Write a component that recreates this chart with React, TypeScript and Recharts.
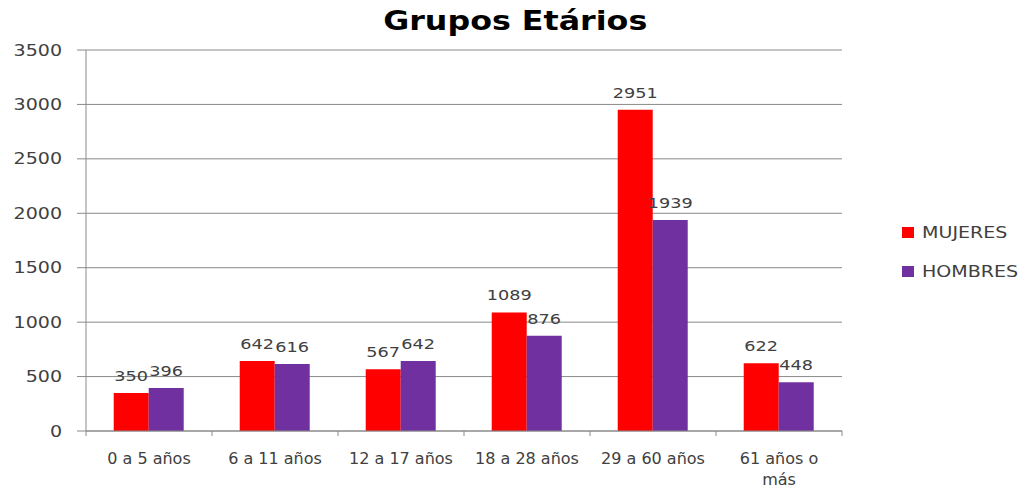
import React from 'react';
import { BarChart, Bar, XAxis, YAxis, CartesianGrid, Legend, LabelList } from 'recharts';

const categories = ['0 a 5 años', '6 a 11 años', '12 a 17 años', '18 a 28 años', '29 a 60 años', '61 años o más'];
const mujeres = [350, 642, 567, 1089, 2951, 622];
const hombres = [396, 616, 642, 876, 1939, 448];
const yTicks = [0, 500, 1000, 1500, 2000, 2500, 3000, 3500];
const seriesNames = { m: 'MUJERES', h: 'HOMBRES' };
const legendOrder = [seriesNames.m, seriesNames.h];
const title = 'Grupos Etários';

const data = categories.map((c, i) => ({ cat: c, m: mujeres[i], h: hombres[i] }));

const FONT = '"DejaVu Sans", sans-serif';
const TXT = '#404040';
const GRID = '#8a8a8a';
const SX = 1.27;

const YTick = (props: any) => {
  const { x, y, payload } = props;
  return (
    <g transform={`translate(${x},${y + 5.5})`}>
      <text transform={`scale(${SX},1)`} textAnchor="end" fontFamily={FONT} fontSize={15} fill={TXT}>
        {payload.value}
      </text>
    </g>
  );
};

const wrapLabel = (s: string, max: number) => {
  const words = s.split(' ');
  const lines: string[] = [];
  let cur = '';
  for (const w of words) {
    const next = cur ? cur + ' ' + w : w;
    if (next.length > max && cur) {
      lines.push(cur);
      cur = w;
    } else cur = next;
  }
  if (cur) lines.push(cur);
  return lines;
};

const XTick = (props: any) => {
  const { x, y, payload, index, visibleTicksCount, width } = props;
  const half = payload && payload.offset ? payload.offset : width / visibleTicksCount / 2;
  const lines = wrapLabel(String(payload.value), 12);
  return (
    <g>
      <line x1={x - half} x2={x - half} y1={y} y2={y + 5} stroke={GRID} />
      {index === visibleTicksCount - 1 && (
        <line x1={x + half} x2={x + half} y1={y} y2={y + 5} stroke={GRID} />
      )}
      <text textAnchor="middle" fontFamily={FONT} fontSize={16} fill={TXT}>
        {lines.map((l, i) => (
          <tspan key={i} x={x} y={y + 32.5 + i * 21}>
            {l}
          </tspan>
        ))}
      </text>
    </g>
  );
};

const renderValue = (props: any) => {
  const { x, y, width, value } = props;
  return (
    <g transform={`translate(${x + width / 2},${y - 12})`}>
      <text transform={`scale(1.22,1)`} textAnchor="middle" fontFamily={FONT} fontSize={14.5} fill={TXT}>
        {value}
      </text>
    </g>
  );
};

const renderLegend = (props: any) => {
  const payload = [...(props.payload || [])].sort(
    (a: any, b: any) => legendOrder.indexOf(a.value) - legendOrder.indexOf(b.value)
  );
  return (
    <div>
      {payload.map((e: any, i: number) => (
        <div key={i} style={{ display: 'flex', alignItems: 'center', height: 39 }}>
          <span style={{ width: 12, height: 11, background: e.color, display: 'inline-block', marginRight: 8 }} />
          <span
            style={{
              fontFamily: FONT,
              fontSize: 15,
              color: TXT,
              display: 'inline-block',
              transform: `scaleX(${SX})`,
              transformOrigin: 'left center',
              whiteSpace: 'nowrap',
            }}
          >
            {e.value}
          </span>
        </div>
      ))}
    </div>
  );
};

export default function App() {
  return (
    <div style={{ position: 'relative', width: 1021, height: 487, background: '#fff' }}>
      <style>{`body{margin:0;background:#fff}`}</style>
      <div
        style={{
          position: 'absolute',
          left: 0,
          width: 1021,
          top: 6,
          textAlign: 'center',
          pointerEvents: 'none',
        }}
      >
        <span
          style={{
            display: 'inline-block',
            fontFamily: FONT,
            fontWeight: 'bold',
            fontSize: 26,
            color: '#000',
            transform: `translateX(5px) scaleX(1.22)`,
            whiteSpace: 'nowrap',
          }}
        >
          {title}
        </span>
      </div>
      <BarChart
        width={1021}
        height={487}
        data={data}
        margin={{ top: 50, right: 179, bottom: 0, left: 26 }}
        barCategoryGap="22%"
        barGap={0}
      >
        <CartesianGrid vertical={false} stroke={GRID} strokeWidth={1} />
        <XAxis
          dataKey="cat"
          height={56}
          tickSize={0}
          tickMargin={0}
          tickLine={false}
          axisLine={{ stroke: GRID }}
          tick={<XTick />}
          interval={0}
        />
        <YAxis
          width={60}
          domain={[0, 3500]}
          ticks={yTicks}
          interval={0}
          tickSize={9}
          tickMargin={15}
          tickLine={{ stroke: GRID }}
          axisLine={{ stroke: GRID }}
          tick={<YTick />}
        />
        <Legend
          align="center"
          verticalAlign="middle"
          content={renderLegend}
          wrapperStyle={{ position: 'absolute', left: 902, top: 213, width: 119 }}
        />
        <Bar dataKey="m" name={seriesNames.m} fill="#FF0000" isAnimationActive={false}>
          <LabelList dataKey="m" content={renderValue} />
        </Bar>
        <Bar dataKey="h" name={seriesNames.h} fill="#7030A0" isAnimationActive={false}>
          <LabelList dataKey="h" content={renderValue} />
        </Bar>
      </BarChart>
    </div>
  );
}
